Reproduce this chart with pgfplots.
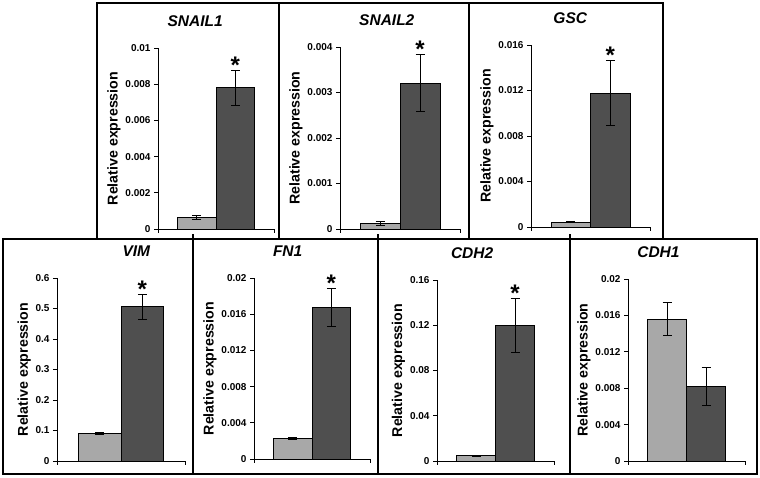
\documentclass[border=0pt]{standalone}
\usepackage{fontspec}
\setmainfont{Liberation Sans}
\usepackage{pgfplots}
\pgfplotsset{compat=1.18}
\definecolor{ctrl}{HTML}{A8A8A8}
\definecolor{treat}{HTML}{4F4F4F}

\tikzset{sigstar/.style={font=\bfseries\fontsize{24}{24}\selectfont, anchor=base, yshift=-3pt}}
\pgfplotsset{
  panel/.style={
    scale only axis, xmin=0, xmax=3, ymin=0, clip=false,
    axis x line*=bottom, axis y line*=left,
    axis line style={black, line width=0.8pt},
    xtick={0,3}, xticklabels={,}, tick align=outside,
    major tick length=4pt, tick style={black, line width=0.8pt},
    scaled y ticks=false,
    tick label style={font=\bfseries\fontsize{10}{11}\selectfont},
    ylabel={Relative expression},
    ylabel style={font=\bfseries\fontsize{14.2}{15}\selectfont, yshift=-2pt},
    title style={font=\bfseries\itshape\fontsize{15.5}{17}\selectfont, anchor=base, yshift=15pt},
  },
  bars/.style={ybar, bar width=1, bar shift=0pt, draw=black, line width=0.6pt, fill=#1,
    error bars/.cd, y dir=both, y explicit,
    error bar style={black, line width=0.7pt},
    error mark options={rotate=90, black, line width=0.7pt, mark size=4.5pt}},
}

\begin{document}
\begin{tikzpicture}
\path (0pt,0pt) rectangle (760pt,478pt);
% frames
\draw[line width=2pt] (97pt,239pt) rectangle (663pt,475pt);
\draw[line width=2pt] (279pt,239pt) -- (279pt,475pt) (469pt,239pt) -- (469pt,475pt);
\draw[line width=2pt] (3pt,4pt) rectangle (757pt,239pt);
\draw[line width=2pt] (193pt,4pt) -- (193pt,244pt) (378pt,4pt) -- (378pt,244pt) (570pt,4pt) -- (570pt,244pt);

% SNAIL1
\begin{axis}[panel, at={(158pt,249pt)}, anchor=south west, width=116pt, height=181pt,
  ymax=0.01, ytick={0,0.002,0.004,0.006,0.008,0.01},
  yticklabels={0,0.002,0.004,0.006,0.008,0.01},
  title={SNAIL1}, title style={at={(0.32,1)}}]
\addplot[bars=ctrl] coordinates {(1,0.00064) +- (0,0.00012)};
\addplot[bars=treat] coordinates {(2,0.00781) +- (0,0.00096)};
\node[sigstar] at (axis cs:2,0.00877) {*};
\end{axis}

% SNAIL2
\begin{axis}[panel, at={(340pt,249pt)}, anchor=south west, width=120pt, height=182pt,
  ymax=0.004, ytick={0,0.001,0.002,0.003,0.004},
  yticklabels={0,0.001,0.002,0.003,0.004},
  title={SNAIL2}, title style={at={(0.39,1)}}]
\addplot[bars=ctrl] coordinates {(1,0.00013) +- (0,0.00004)};
\addplot[bars=treat] coordinates {(2,0.00321) +- (0,0.00063)};
\node[sigstar] at (axis cs:2,0.00384) {*};
\end{axis}

% GSC
\begin{axis}[panel, at={(531pt,251pt)}, anchor=south west, width=119pt, height=182pt,
  ymax=0.016, ytick={0,0.004,0.008,0.012,0.016},
  yticklabels={0,0.004,0.008,0.012,0.016},
  title={GSC}, title style={at={(0.33,1)}}]
\addplot[bars=ctrl] coordinates {(1,0.00044) +- (0,0.00005)};
\addplot[bars=treat] coordinates {(2,0.01179) +- (0,0.00285)};
\node[sigstar] at (axis cs:2,0.01464) {*};
\end{axis}

% VIM
\begin{axis}[panel, at={(57pt,17pt)}, anchor=south west, width=128pt, height=183pt,
  ymax=0.6, ytick={0,0.1,0.2,0.3,0.4,0.5,0.6},
  yticklabels={0,0.1,0.2,0.3,0.4,0.5,0.6},
  title={VIM}, title style={at={(0.62,1)}}]
\addplot[bars=ctrl] coordinates {(1,0.0905) +- (0,0.002)};
\addplot[bars=treat] coordinates {(2,0.506) +- (0,0.041)};
\node[sigstar] at (axis cs:2,0.547) {*};
\end{axis}

% FN1
\begin{axis}[panel, at={(254pt,19pt)}, anchor=south west, width=116pt, height=181pt,
  ymax=0.02, ytick={0,0.004,0.008,0.012,0.016,0.02},
  yticklabels={0,0.004,0.008,0.012,0.016,0.02},
  title={FN1}, title style={at={(0.29,1)}}]
\addplot[bars=ctrl] coordinates {(1,0.00232) +- (0,0.0001)};
\addplot[bars=treat] coordinates {(2,0.01676) +- (0,0.0021)};
\node[sigstar] at (axis cs:2,0.01886) {*};
\end{axis}

% CDH2
\begin{axis}[panel, at={(437pt,17pt)}, anchor=south west, width=117pt, height=181pt,
  ymax=0.16, ytick={0,0.04,0.08,0.12,0.16},
  yticklabels={0,0.04,0.08,0.12,0.16},
  title={CDH2}, title style={at={(0.3,1)}}]
\addplot[bars=ctrl] coordinates {(1,0.0047) +- (0,0.0005)};
\addplot[bars=treat] coordinates {(2,0.1199) +- (0,0.0235)};
\node[sigstar] at (axis cs:2,0.1434) {*};
\end{axis}

% CDH1
\begin{axis}[panel, at={(628pt,17pt)}, anchor=south west, width=117pt, height=182pt,
  ymax=0.02, ytick={0,0.004,0.008,0.012,0.016,0.02},
  yticklabels={0,0.004,0.008,0.012,0.016,0.02},
  title={CDH1}, title style={at={(0.26,1)}}]
\addplot[bars=ctrl] coordinates {(1,0.0156) +- (0,0.0018)};
\addplot[bars=treat] coordinates {(2,0.00821) +- (0,0.0021)};
\end{axis}
\end{tikzpicture}
\end{document}
